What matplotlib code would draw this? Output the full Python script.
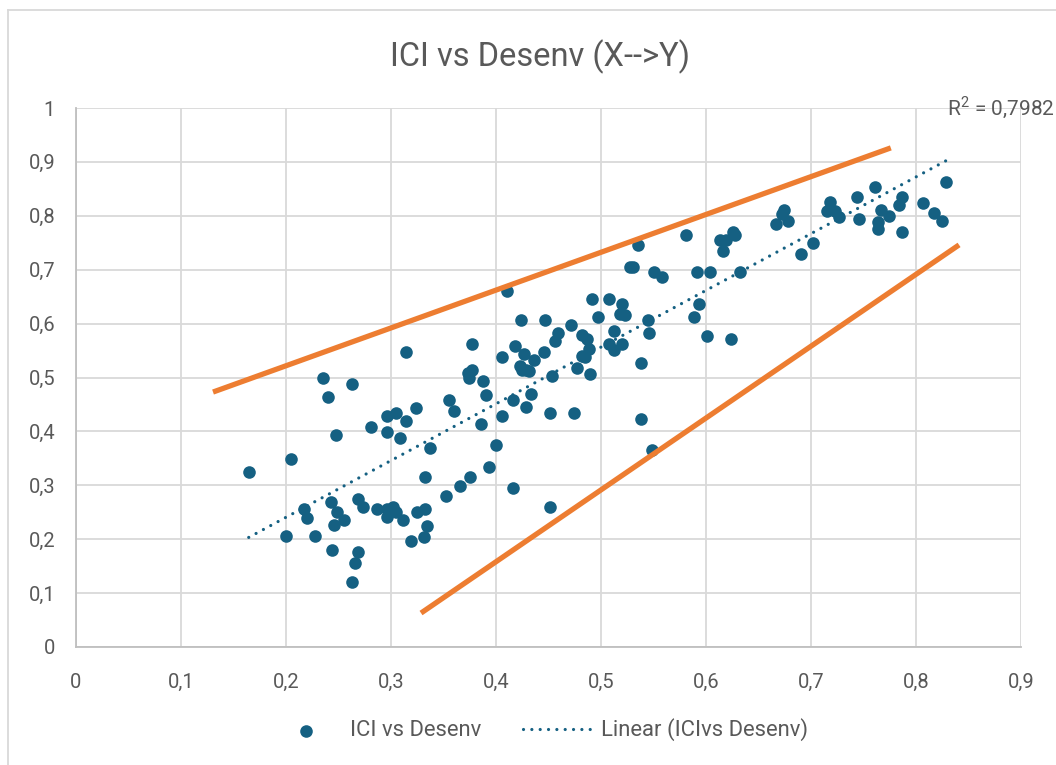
import numpy as np
import matplotlib
matplotlib.use("Agg")
import matplotlib.pyplot as plt
from matplotlib.lines import Line2D

# ---- data ----
x_vals = [
    0.314, 0.2355, 0.263, 0.240, 0.355, 0.360, 0.324, 0.2965, 0.3045, 0.314,
    0.281, 0.2965, 0.309, 0.248, 0.205, 0.1645, 0.337, 0.332, 0.352, 0.366,
    0.2686, 0.2736, 0.2174, 0.2197, 0.2429, 0.2483, 0.2555, 0.2454, 0.2864, 0.2965,
    0.3016, 0.2965, 0.3045, 0.3117, 0.3244, 0.332, 0.3343, 0.3317, 0.319, 0.200,
    0.2276, 0.2435, 0.2686, 0.2657, 0.263,
    0.4105, 0.4917, 0.5073, 0.520, 0.518, 0.5229, 0.5505, 0.558, 0.4238, 0.4464,
    0.4714, 0.497, 0.545, 0.5454, 0.459, 0.4565, 0.4816, 0.4863, 0.5124, 0.5073,
    0.5124, 0.520, 0.4886, 0.4816, 0.4845, 0.4768, 0.4895, 0.5378, 0.4184, 0.4264,
    0.4359, 0.446, 0.4229, 0.4283, 0.4314, 0.4244, 0.4057, 0.4533, 0.3774, 0.3733,
    0.3774, 0.3746, 0.388, 0.3905, 0.4337, 0.4159, 0.4283, 0.4057, 0.4514, 0.4743,
    0.5378, 0.3854, 0.4003, 0.5483, 0.393, 0.3752, 0.4159, 0.4514,
    0.8290, 0.761, 0.7435, 0.7863, 0.7841, 0.807, 0.8174, 0.8248, 0.7863, 0.7663,
    0.7743, 0.764, 0.764, 0.746, 0.718, 0.715, 0.723, 0.7264, 0.674, 0.672,
    0.678, 0.667, 0.702, 0.690, 0.5807, 0.613, 0.6187, 0.626, 0.6276, 0.616,
    0.535, 0.5276, 0.530, 0.5914, 0.6038, 0.632, 0.5936, 0.5886, 0.6012, 0.624,
]
y_vals = [
    0.547, 0.4985, 0.488, 0.463, 0.458, 0.438, 0.444, 0.428, 0.4335, 0.419,
    0.408, 0.399, 0.388, 0.394, 0.349, 0.324, 0.369, 0.315, 0.280, 0.299,
    0.275, 0.260, 0.2566, 0.240, 0.2696, 0.250, 0.2356, 0.2257, 0.2555, 0.2555,
    0.260, 0.2406, 0.2505, 0.2356, 0.2505, 0.2555, 0.225, 0.2047, 0.196, 0.2054,
    0.2054, 0.1805, 0.176, 0.156, 0.121,
    0.661, 0.6456, 0.646, 0.636, 0.617, 0.616, 0.696, 0.686, 0.606, 0.606,
    0.597, 0.612, 0.606, 0.5826, 0.5826, 0.567, 0.578, 0.572, 0.5863, 0.562,
    0.551, 0.5627, 0.553, 0.540, 0.5375, 0.517, 0.507, 0.527, 0.558, 0.5436,
    0.5325, 0.548, 0.5213, 0.514, 0.5126, 0.5133, 0.5375, 0.502, 0.562, 0.5078,
    0.5133, 0.4985, 0.493, 0.4675, 0.469, 0.4577, 0.4447, 0.4286, 0.4336, 0.4336,
    0.423, 0.4137, 0.374, 0.365, 0.3346, 0.3148, 0.2944, 0.2597,
    0.863, 0.854, 0.834, 0.8355, 0.820, 0.824, 0.806, 0.790, 0.7705, 0.8108,
    0.7996, 0.789, 0.775, 0.794, 0.825, 0.8095, 0.8095, 0.797, 0.8108, 0.8033,
    0.790, 0.785, 0.750, 0.730, 0.765, 0.755, 0.755, 0.770, 0.764, 0.735,
    0.746, 0.7056, 0.7056, 0.695, 0.695, 0.695, 0.6364, 0.6117, 0.577, 0.5714,
]
upper_line_x = [0.1305, 0.776]
upper_line_y = [0.473, 0.926]
lower_line_x = [0.3286, 0.841]
lower_line_y = [0.063, 0.746]
x_ticks = [0, 0.1, 0.2, 0.3, 0.4, 0.5, 0.6, 0.7, 0.8, 0.9]
y_ticks = [0, 0.1, 0.2, 0.3, 0.4, 0.5, 0.6, 0.7, 0.8, 0.9, 1]
title = "ICI vs Desenv (X-->Y)"
series_label = "ICI vs Desenv"
trend_label = "Linear (ICIvs Desenv)"
r2_text = "R$^2$ = 0,7982"

def fmt(v):
    return ("%g" % v).replace(".", ",")

BLUE = "#156082"
ORANGE = "#ED7D31"
GRID = "#D9D9D9"
TXT = "#595959"
plt.rcParams['font.family'] = ["Roboto", "DejaVu Sans"]
plt.rcParams['mathtext.fontset'] = 'custom'
plt.rcParams['mathtext.rm'] = 'Roboto'

fig = plt.figure(figsize=(10.56, 7.65), dpi=100)
ax = fig.add_axes([76/1056, 1-647/765, (1021-76)/1056, (647-108)/765])

ax.set_xlim(0, 0.9)
ax.set_ylim(0, 1)
ax.set_xticks(x_ticks)
ax.set_yticks(y_ticks)
ax.set_xticklabels([fmt(v) for v in x_ticks])
ax.set_yticklabels([fmt(v) for v in y_ticks])
ax.tick_params(length=0, labelsize=14.5, colors=TXT)
ax.tick_params(axis='x', pad=19)
ax.tick_params(axis='y', pad=15)
ax.grid(True, color=GRID, linewidth=1.3)
ax.set_axisbelow(True)
for s in ["top", "right"]:
    ax.spines[s].set_visible(False)
for s in ["left", "bottom"]:
    ax.spines[s].set_color("#BFBFBF")
    ax.spines[s].set_linewidth(1.3)

xa = np.array(x_vals)
ya = np.array(y_vals)
sc = ax.scatter(xa, ya, s=82, color=BLUE, zorder=3, linewidths=0, label=series_label)

coef = np.polyfit(xa, ya, 1)
tx = np.array([xa.min(), xa.max()])
tl, = ax.plot(tx, np.polyval(coef, tx), color=BLUE, linestyle=(0, (0.01, 2.6)),
              dash_capstyle='round', linewidth=2.3, zorder=4, label=trend_label)

ax.plot(upper_line_x, upper_line_y, color=ORANGE, linewidth=3.8, zorder=5,
        solid_capstyle='butt')
ax.plot(lower_line_x, lower_line_y, color=ORANGE, linewidth=3.8, zorder=5,
        solid_capstyle='butt')

fig.text(540/1056, 1-57/765, title, ha='center', va='center', fontsize=23.5,
         color=TXT)
fig.text(1001/1056, 1-108/765, r2_text, ha='center', va='center', fontsize=15,
         color=TXT)

leg = fig.legend(handles=[sc, tl], labels=[series_label, trend_label],
                 loc='center', bbox_to_anchor=(540/1056, 1-730/765), ncol=2,
                 frameon=False, fontsize=15.8, handlelength=3.15, columnspacing=1.87,
                 handletextpad=0.43, markerscale=1.0)
for t in leg.get_texts():
    t.set_color(TXT)

fig.add_artist(Line2D([8/1056, 8/1056], [0, 1-10/765], transform=fig.transFigure,
                      color="#D9D9D9", linewidth=1.3))
fig.add_artist(Line2D([8/1056, 1], [1-10/765, 1-10/765], transform=fig.transFigure,
                      color="#D9D9D9", linewidth=1.3))

fig.savefig("out.png", dpi=100, facecolor="white")
